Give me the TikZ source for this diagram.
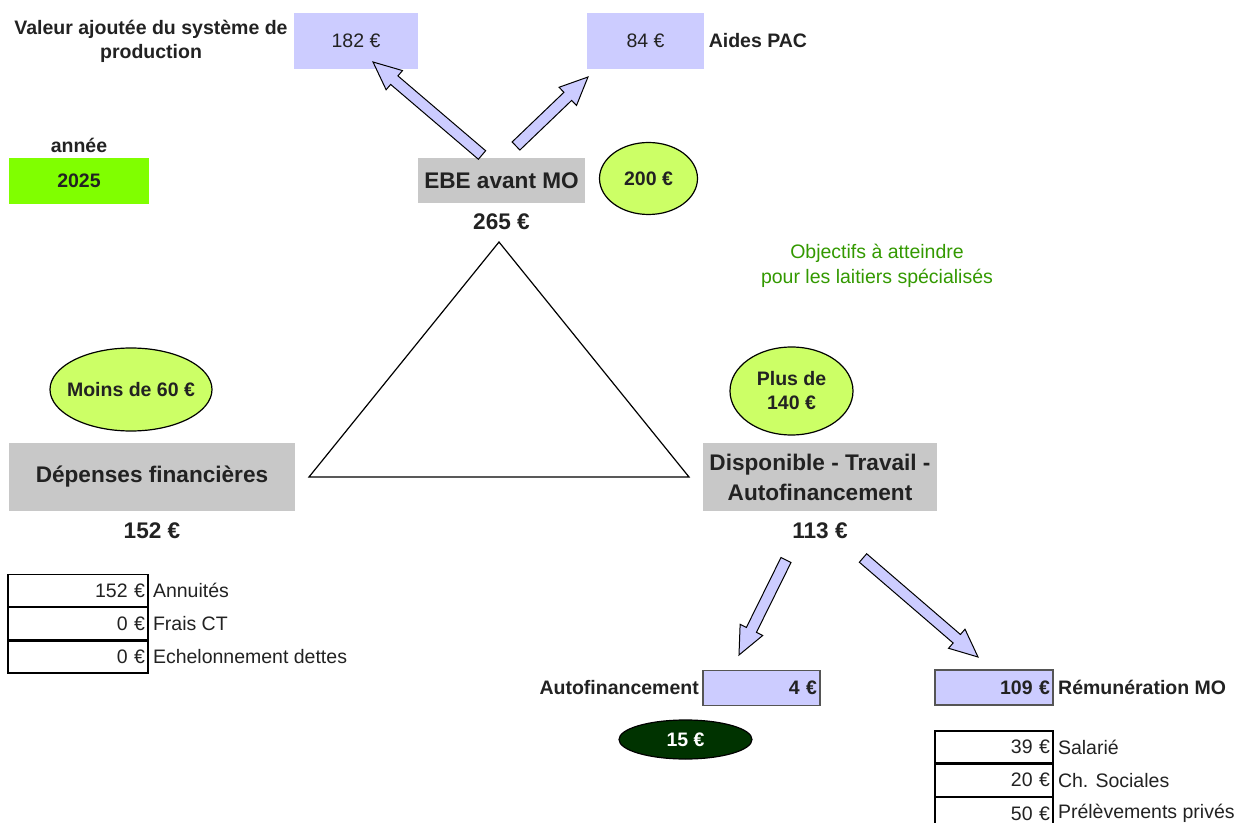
\documentclass[tikz,border=0pt]{standalone}
\usepackage{fontspec}
\setmainfont{Liberation Sans}
\usepackage{tikz}
\usetikzlibrary{
  arrows.meta,
  shapes.geometric,
  positioning,
  calc
}
\definecolor{ebeLav}{HTML}{CCCCFF}
\definecolor{ebeGray}{HTML}{C8C8C8}
\definecolor{ebeLime}{HTML}{CCFF66}
\definecolor{ebeYear}{HTML}{80FF00}
\definecolor{ebeDark}{HTML}{003300}
\definecolor{ebeGoal}{HTML}{339900}
\definecolor{ebeInk}{HTML}{222222}
\definecolor{ebeEdge}{HTML}{555555}
\newcommand{\ebefont}{\fontsize{9.75}{12}\selectfont}
\newcommand{\ebebig}{\fontsize{11.3}{15}\selectfont\bfseries}
\newcommand{\blockarrow}[2]{%
  \coordinate (bah) at ($(#2)!14pt!(#1)$);
  \draw[fatarrow] ($(#1)!2.8pt!90:(#2)$) -- ($(bah)!2.8pt!-90:(#1)$) -- ($(bah)!6.3pt!-90:(#1)$)
    -- (#2) -- ($(bah)!6.3pt!90:(#1)$) -- ($(bah)!2.8pt!90:(#1)$) -- ($(#1)!2.8pt!-90:(#2)$) -- cycle;}
\tikzset{
  lbl/.style={inner sep=0pt, font=\ebefont, text=ebeInk},
  blbl/.style={lbl, font=\ebefont\bfseries},
  valbox/.style={fill=ebeLav, minimum width=58.5pt, minimum height=28pt, font=\ebefont, text=ebeInk},
  ebebox/.style={fill=ebeGray, minimum width=83.5pt, minimum height=22.5pt, inner sep=2pt, align=center, font=\ebebig, text=ebeInk},
  goal/.style={draw, ellipse, fill=ebeLime, line width=0.6pt, inner sep=0pt, align=center, font=\ebefont\bfseries, text=ebeInk},
  bigval/.style={inner sep=0pt, font=\ebebig, text=ebeInk},
  tabrow/.style={draw, line width=0.6pt, minimum height=16pt, text width=67pt, inner xsep=1.5pt, inner ysep=0pt, align=right, font=\ebefont, text=ebeInk},
  resbox/.style={draw=ebeEdge, line width=0.8pt, fill=ebeLav, minimum height=17.5pt, text width=55.5pt, inner xsep=1.5pt, inner ysep=0pt, align=right, font=\ebefont\bfseries, text=ebeInk},
  fatarrow/.style={draw, fill=ebeLav, line width=0.5pt, line join=miter}
}

\begin{document}
\begin{tikzpicture}[x=0.5pt, y=-0.5pt]
  \useasboundingbox (0,0) rectangle (1237,823);

  \node[blbl, align=center] (valeur) at (151,41) {Valeur ajoutée du système de\\production};
  \node[valbox, minimum width=62pt] (va) at (356,41) {182 €};
  \node[valbox] (pac) at (645.5,41) {84 €};
  \node[blbl, right=2pt of pac] (paclbl) {Aides PAC};

  \node[fill=ebeYear, minimum width=70pt, minimum height=23pt, font=\ebefont\bfseries, text=ebeInk] (year) at (79,181) {2025};
  \node[blbl, above=2.5pt of year] (annee) {année};

  \node[ebebox] (ebe) at (501.5,180.5) {EBE avant MO};
  \node[bigval, below=5pt of ebe] (ebeval) {265 €};
  \node[goal, minimum width=49pt, minimum height=36pt] (ebegoal) at (648.5,178.5) {200 €};

  \node[lbl, text=ebeGoal, align=center, font=\fontsize{9.75}{12.5}\selectfont] (objectifs) at (877,266) {Objectifs à atteindre\\pour les laitiers spécialisés};

  \draw[line width=0.6pt, line join=miter] (499,242) -- (309,477) -- (689,477) -- cycle;

  \node[goal, minimum width=81pt, minimum height=41.5pt, inner xsep=-4pt] (depgoal) at (131,389.5) {Moins de 60 €};
  \node[ebebox, minimum width=143pt, minimum height=34pt] (dep) at (152,477) {Dépenses financières};
  \node[bigval, below=5.5pt of dep] (depval) {152 €};

  \node[goal, minimum width=61.5pt, minimum height=44pt] (dispogoal) at (791.5,391) {Plus de\\140 €};
  \node[ebebox, minimum width=117pt, minimum height=34pt] (dispo) at (820,477) {Disponible - Travail -\\Autofinancement};
  \node[bigval, below=5.5pt of dispo] (dispoval) {113 €};

  \node[tabrow] (ann) at (78,590.5) {152 €};
  \node[tabrow, below=0pt of ann] (frais) {0 €};
  \node[tabrow, below=0pt of frais] (echel) {0 €};
  \node[lbl, right=2pt of ann] {Annuités};
  \node[lbl, right=2pt of frais] {Frais CT};
  \node[lbl, right=2pt of echel] {Echelonnement dettes};

  \node[resbox, text width=55.5pt] (auto) at (761.5,688) {4 €};
  \node[blbl, left=1.5pt of auto] (autolbl) {Autofinancement};
  \node[draw, ellipse, fill=ebeDark, line width=0.6pt, inner sep=0pt, minimum width=66.5pt, minimum height=19.5pt, font=\ebefont\bfseries, text=white] (autogoal) at (685.5,739.5) {15 €};

  \node[resbox, text width=56pt] (rem) at (994,687.5) {109 €};
  \node[blbl, right=2pt of rem] (remlbl) {Rémunération MO};

  \node[tabrow, text width=56pt] (sal) at (994,747) {39 €};
  \node[tabrow, text width=56pt, below=0pt of sal] (soc) {20 €};
  \node[tabrow, text width=56pt, below=0pt of soc] (prel) {50 €};
  \node[lbl, right=2pt of sal] {Salarié};
  \node[lbl, right=2pt of soc] {Ch. Sociales};
  \node[lbl, right=2pt of prel] {Prélèvements privés};

  \coordinate (vaTail) at (482,155);
  \coordinate (vaTip) at (373,62);
  \coordinate (pacTail) at (516,146);
  \coordinate (pacTip) at (588,77);
  \coordinate (autoTail) at (786,560);
  \coordinate (autoTip) at (739,655);
  \coordinate (remTail) at (863,558);
  \coordinate (remTip) at (978,657);
  \blockarrow{vaTail}{vaTip}
  \blockarrow{pacTail}{pacTip}
  \blockarrow{autoTail}{autoTip}
  \blockarrow{remTail}{remTip}
\end{tikzpicture}
\end{document}
